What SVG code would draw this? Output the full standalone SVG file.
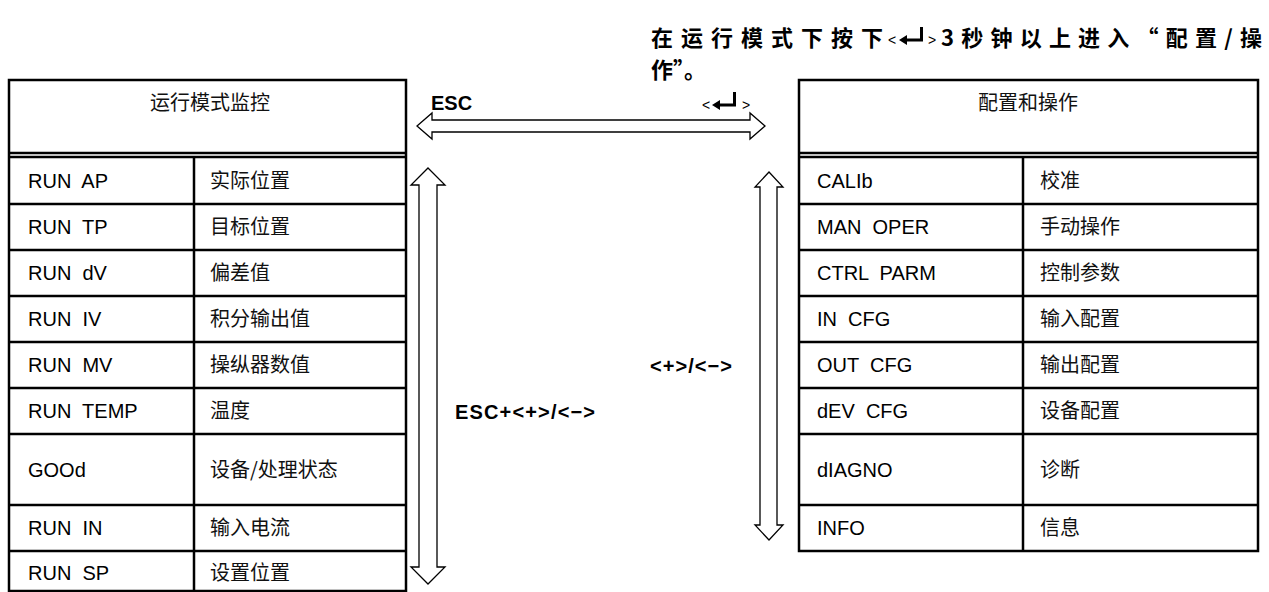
<svg xmlns="http://www.w3.org/2000/svg" width="1269" height="592" viewBox="0 0 1269 592">
<style>
.bd{fill:none;stroke:#000;stroke-width:2.5}
.ln{stroke:#000;stroke-width:2.5}
.t{font-family:"Liberation Sans","Noto Sans CJK SC",sans-serif;font-size:20px;fill:#000;white-space:pre}
.c{font-family:"Noto Sans CJK SC","Liberation Sans",sans-serif;font-size:20px;fill:#111}
.b{font-family:"Liberation Sans","Noto Sans CJK SC",sans-serif;font-size:20px;font-weight:bold;fill:#000}
.hb{font-family:"Noto Sans CJK SC","Liberation Sans",sans-serif;font-size:22px;font-weight:bold;fill:#000}
.sm{font-family:"Liberation Sans",sans-serif;font-size:14px;fill:#000}
.ar{fill:#fff;stroke:#000;stroke-width:1.3;stroke-linejoin:miter}
.ic{fill:#000}
</style>
<defs>
<g id="enter"><path class="ic" d="M0,0 L8,-5 L8,-1.5 L21,-1.5 L21,-13 L24,-13 L24,1.5 L8,1.5 L8,5 Z"/></g>
</defs>

<g id="title">
<text class="hb" x="651" y="46" textLength="232" lengthAdjust="spacing">在运行模式下按下</text>
<text class="sm" x="888" y="45">&lt;</text>
<use href="#enter" x="899" y="40"/>
<text class="sm" x="928" y="45">&gt;</text>
<text class="hb" x="941" y="46" textLength="321" lengthAdjust="spacing">3秒钟以上进入“配置/操</text>
<text class="hb" x="651" y="78">作”。</text>
</g>

<g id="left-table">
<rect class="bd" x="9" y="80" width="397" height="511"/>
<line class="ln" x1="9" y1="153" x2="406" y2="153"/>
<line class="ln" x1="9" y1="157" x2="406" y2="157"/>
<line class="ln" x1="194" y1="157" x2="194" y2="591"/>
<line class="ln" x1="9" y1="204" x2="406" y2="204"/>
<line class="ln" x1="9" y1="250" x2="406" y2="250"/>
<line class="ln" x1="9" y1="296" x2="406" y2="296"/>
<line class="ln" x1="9" y1="342" x2="406" y2="342"/>
<line class="ln" x1="9" y1="388" x2="406" y2="388"/>
<line class="ln" x1="9" y1="434" x2="406" y2="434"/>
<line class="ln" x1="9" y1="505" x2="406" y2="505"/>
<line class="ln" x1="9" y1="551" x2="406" y2="551"/>
<text class="c" x="210" y="110" text-anchor="middle">运行模式监控</text>
<text class="t" x="28" y="188">RUN  AP</text><text class="c" x="210" y="188">实际位置</text>
<text class="t" x="28" y="234">RUN  TP</text><text class="c" x="210" y="234">目标位置</text>
<text class="t" x="28" y="280">RUN  dV</text><text class="c" x="210" y="280">偏差值</text>
<text class="t" x="28" y="326">RUN  IV</text><text class="c" x="210" y="326">积分输出值</text>
<text class="t" x="28" y="372">RUN  MV</text><text class="c" x="210" y="372">操纵器数值</text>
<text class="t" x="28" y="418">RUN  TEMP</text><text class="c" x="210" y="418">温度</text>
<text class="t" x="28" y="477">GOOd</text><text class="c" x="210" y="477">设备/处理状态</text>
<text class="t" x="28" y="535">RUN  IN</text><text class="c" x="210" y="535">输入电流</text>
<text class="t" x="28" y="580">RUN  SP</text><text class="c" x="210" y="580">设置位置</text>
</g>

<g id="right-table">
<rect class="bd" x="799" y="80" width="459" height="471"/>
<line class="ln" x1="799" y1="153" x2="1258" y2="153"/>
<line class="ln" x1="799" y1="157" x2="1258" y2="157"/>
<line class="ln" x1="1023" y1="157" x2="1023" y2="551"/>
<line class="ln" x1="799" y1="204" x2="1258" y2="204"/>
<line class="ln" x1="799" y1="250" x2="1258" y2="250"/>
<line class="ln" x1="799" y1="296" x2="1258" y2="296"/>
<line class="ln" x1="799" y1="342" x2="1258" y2="342"/>
<line class="ln" x1="799" y1="388" x2="1258" y2="388"/>
<line class="ln" x1="799" y1="434" x2="1258" y2="434"/>
<line class="ln" x1="799" y1="505" x2="1258" y2="505"/>
<text class="c" x="1028" y="110" text-anchor="middle">配置和操作</text>
<text class="t" x="817" y="188">CALIb</text><text class="c" x="1040" y="188">校准</text>
<text class="t" x="817" y="234">MAN  OPER</text><text class="c" x="1040" y="234">手动操作</text>
<text class="t" x="817" y="280">CTRL  PARM</text><text class="c" x="1040" y="280">控制参数</text>
<text class="t" x="817" y="326">IN  CFG</text><text class="c" x="1040" y="326">输入配置</text>
<text class="t" x="817" y="372">OUT  CFG</text><text class="c" x="1040" y="372">输出配置</text>
<text class="t" x="817" y="418">dEV  CFG</text><text class="c" x="1040" y="418">设备配置</text>
<text class="t" x="817" y="477">dIAGNO</text><text class="c" x="1040" y="477">诊断</text>
<text class="t" x="817" y="535">INFO</text><text class="c" x="1040" y="535">信息</text>
</g>

<g id="connectors">
<path class="ar" d="M417,126 L432,113 L432,120 L750,120 L750,113 L765,126 L750,139 L750,132 L432,132 L432,139 Z"/>
<path class="ar" d="M428,168 L445,185 L437,185 L437,567 L445,567 L428,584 L411,567 L419,567 L419,185 L411,185 Z"/>
<path class="ar" d="M769,172 L783,187 L777,187 L777,525 L783,525 L769,540 L755,525 L760,525 L760,187 L755,187 Z"/>
<text class="b" x="431" y="110">ESC</text>
<text class="sm" x="702" y="110">&lt;</text>
<use href="#enter" x="712" y="105"/>
<text class="sm" x="742" y="110">&gt;</text>
<text class="b" x="650" y="373" textLength="82" lengthAdjust="spacing">&lt;+&gt;/&lt;−&gt;</text>
<text class="b" x="455" y="419" textLength="140" lengthAdjust="spacing">ESC+&lt;+&gt;/&lt;−&gt;</text>
</g>
</svg>
